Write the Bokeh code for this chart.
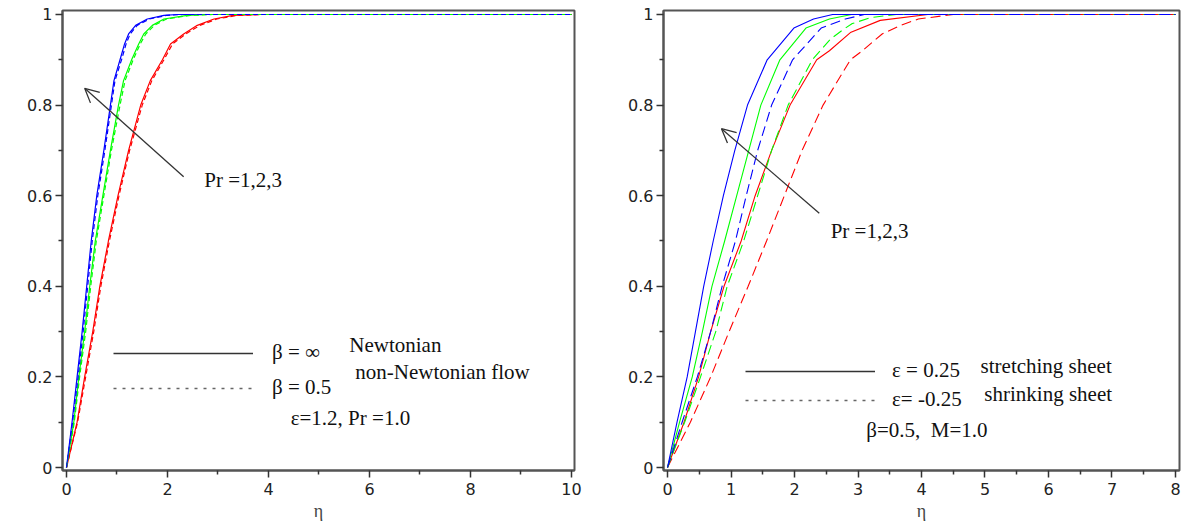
from bokeh.plotting import figure
from bokeh.models import (Range1d, FixedTicker, Label, Legend, LegendItem, Arrow,
                          OpenHead, CustomJSTickFormatter)
from bokeh.layouts import row
from bokeh.embed import file_html
from bokeh.resources import INLINE

NAN = float("nan")

# ---------------- data: left panel (epsilon = 1.2) ----------------
theta_left = [0, .1, .2, .3, .4, .5, .6, .7, .8, .854, .9, .935, .957, .976, .99, .998, 1, 1]
eta_L_pr3_newt = [0, .11, .21, .31, .40, .49, .60, .74, .87, .94, 1.06, 1.15, 1.23, 1.37, 1.60, 1.93, 2.2, 10]
eta_L_pr2_newt = [0, .145, .245, .36, .46, .57, .72, .87, 1.03, 1.13, 1.29, 1.43, 1.53, 1.70, 1.93, 2.39, 2.8, 10]
eta_L_pr1_newt = [0, .21, .36, .52, .66, .83, 1.02, 1.23, 1.47, 1.66, 1.90, 2.06, 2.32, 2.59, 2.92, 3.30, 3.8, 10]
eta_L_pr3_non = [0, .12, .23, .33, .42, .51, .62, .76, .89, .96, 1.09, 1.18, 1.26, 1.40, 1.64, 1.98, 2.3, 10]
eta_L_pr2_non = [0, .155, .26, .38, .48, .59, .74, .89, 1.06, 1.16, 1.32, 1.46, 1.57, 1.74, 1.98, 2.45, 2.9, 10]
eta_L_pr1_non = [0, .22, .38, .54, .68, .85, 1.04, 1.25, 1.50, 1.69, 1.93, 2.10, 2.36, 2.64, 2.98, 3.38, 3.9, 10]

# ---------------- data: right panel (beta = 0.5, M = 1.0) ----------------
theta_R_a = [0, .1, .2, .3, .4, .5, .6, .7, .8, .9, .97, .99, 1, 1]
eta_R_pr3_stretch = [0, .15, .31, .44, .57, .72, .88, 1.06, 1.26, 1.57, 1.99, 2.3, 2.6, 8]
eta_R_pr2_stretch = [0, .19, .39, .55, .70, .90, 1.09, 1.28, 1.47, 1.77, 2.18, 2.55, 2.9, 8]
eta_R_pr3_shrink = [0, .23, .47, .68, .86, 1.07, 1.24, 1.42, 1.64, 1.97, 2.42, 2.8, 3.1, 8]
theta_R_b = [0, .1, .2, .3, .4, .5, .6, .7, .8, .9, .92, .96, .987, 1, 1]
eta_R_pr1_stretch = [0, .26, .49, .68, .89, 1.16, 1.38, 1.64, 1.93, 2.35, 2.55, 2.88, 3.35, 4.1, 8]
theta_R_c = [0, .1, .2, .3, .4, .5, .6, .7, .8, .9, .946, .968, .98, .993, 1, 1]
eta_R_pr2_shrink = [0, .27, .52, .76, .94, 1.2, 1.42, 1.64, 1.90, 2.28, 2.57, 2.78, 2.91, 3.2, 3.6, 8]
theta_R_d = [0, .1, .2, .3, .4, .5, .6, .7, .8, .9, .92, .957, .976, .99, 1, 1]
eta_R_pr1_shrink = [0, .36, .68, .97, 1.27, 1.56, 1.84, 2.12, 2.45, 2.88, 3.07, 3.38, 3.67, 3.95, 4.5, 8]

BLUE, GREEN, RED = "#0000ff", "#00ff00", "#ff0000"
FRAME = "#555555"
SERIF = "Liberation Serif"
TICKF = "DejaVu Sans"
TXT = "21px"


def make_fig(width, x_start, x_end, mbl, mbr, xmajor, xminor):
    p = figure(width=width, height=523, x_range=Range1d(x_start, x_end),
               y_range=Range1d(-0.0066, 1.0088), output_backend="svg",
               toolbar_location=None, min_border_left=mbl, min_border_right=mbr,
               min_border_top=10, min_border_bottom=53)
    p.grid.visible = False
    p.outline_line_color = FRAME
    p.outline_line_width = 2
    p.background_fill_color = "white"
    p.border_fill_color = "white"
    for ax in (p.xaxis[0], p.yaxis[0]):
        ax.axis_line_color = FRAME
        ax.axis_line_width = 2
        ax.major_tick_line_color = "#333333"
        ax.minor_tick_line_color = "#333333"
        ax.major_tick_line_width = 1.5
        ax.minor_tick_line_width = 1.5
        ax.major_tick_out = 7
        ax.major_tick_in = 0
        ax.minor_tick_out = 4
        ax.minor_tick_in = 0
        ax.major_label_text_font = TICKF
        ax.major_label_text_font_size = "16px"
        ax.major_label_text_color = "#222222"
        ax.formatter = CustomJSTickFormatter(code="return Number(tick.toFixed(2)).toString();")
    p.xaxis.ticker = FixedTicker(ticks=xmajor, minor_ticks=xminor)
    p.yaxis.ticker = FixedTicker(ticks=[0, 0.2, 0.4, 0.6, 0.8, 1.0],
                                 minor_ticks=[0.1, 0.3, 0.5, 0.7, 0.9])
    p.xaxis.major_label_standoff = 5
    p.yaxis.major_label_standoff = 3
    p.xaxis.axis_label = "η"
    p.xaxis.axis_label_text_font = SERIF
    p.xaxis.axis_label_text_font_style = "normal"
    p.xaxis.axis_label_text_font_size = "18px"
    p.xaxis.axis_label_standoff = 3
    return p


def text(p, x, y, s, size=TXT):
    p.add_layout(Label(x=x, y=y, text=s, text_font=SERIF, text_font_size=size,
                       text_baseline="middle", text_align="left", text_color="#111111"))


# ---------------- left figure ----------------
pL = make_fig(600, -0.079, 10.06, 62, 26,
              [0, 2, 4, 6, 8, 10], [1, 3, 5, 7, 9])
for eta, col in ((eta_L_pr1_newt, RED), (eta_L_pr2_newt, GREEN), (eta_L_pr3_newt, BLUE)):
    pL.line(eta, theta_left, line_color=col, line_width=1.2)
for eta, col in ((eta_L_pr1_non, RED), (eta_L_pr2_non, GREEN), (eta_L_pr3_non, BLUE)):
    pL.line(eta, theta_left, line_color=col, line_width=1.2, line_dash="5 3")

rs = pL.line([NAN], [NAN], line_color="#333333", line_width=1.6)
rd = pL.line([NAN], [NAN], line_color="#666666", line_width=1.3, line_dash="3 6")
legL = Legend(items=[LegendItem(label="β = ∞", renderers=[rs]),
                     LegendItem(label="β = 0.5", renderers=[rd])],
              location=(51, 70), glyph_width=140, glyph_height=20, label_height=20,
              spacing=10, padding=0, margin=0, label_standoff=19,
              border_line_alpha=0, background_fill_alpha=0,
              label_text_font=SERIF, label_text_font_size=TXT, label_text_color="#111111")
pL.add_layout(legL)
text(pL, 5.60, 0.2715, "Newtonian")
text(pL, 5.72, 0.21, "non-Newtonian flow")
text(pL, 4.44, 0.11, "ε=1.2, Pr =1.0")
text(pL, 2.73, 0.634, "Pr =1,2,3")
pL.add_layout(Arrow(x_start=2.32, y_start=0.642, x_end=0.36, y_end=0.837,
                    line_color="#333333", line_width=1.3,
                    end=OpenHead(size=14, line_color="#333333", line_width=1.3)))
pL.add_layout(Label(x=-1.07, y=0.501, text="θ", text_font=SERIF, text_font_size="18px",
                    text_align="center", text_baseline="middle", text_color="#111111"))

# ---------------- right figure ----------------
pR = make_fig(581, -0.063, 8.063, 63, 2,
              [0, 1, 2, 3, 4, 5, 6, 7, 8], [0.5, 1.5, 2.5, 3.5, 4.5, 5.5, 6.5, 7.5])
for eta, th, col in ((eta_R_pr1_stretch, theta_R_b, RED), (eta_R_pr2_stretch, theta_R_a, GREEN),
                     (eta_R_pr3_stretch, theta_R_a, BLUE)):
    pR.line(eta, th, line_color=col, line_width=1.1)
for eta, th, col in ((eta_R_pr1_shrink, theta_R_d, RED), (eta_R_pr2_shrink, theta_R_c, GREEN),
                     (eta_R_pr3_shrink, theta_R_a, BLUE)):
    pR.line(eta, th, line_color=col, line_width=1.1, line_dash="10 5")

rs2 = pR.line([NAN], [NAN], line_color="#333333", line_width=1.6)
rd2 = pR.line([NAN], [NAN], line_color="#666666", line_width=1.3, line_dash="3 6")
legR = Legend(items=[LegendItem(label="ε = 0.25", renderers=[rs2]),
                     LegendItem(label="ε= -0.25", renderers=[rd2])],
              location=(82, 58), glyph_width=130, glyph_height=20, label_height=20,
              spacing=4, padding=0, margin=0, label_standoff=17,
              border_line_alpha=0, background_fill_alpha=0,
              label_text_font=SERIF, label_text_font_size=TXT, label_text_color="#111111")
pR.add_layout(legR)
text(pR, 4.93, 0.225, "stretching sheet")
text(pR, 4.99, 0.163, "shrinking sheet")
text(pR, 3.13, 0.082, "β=0.5,\u00a0 M=1.0")
text(pR, 2.57, 0.523, "Pr =1,2,3")
pR.add_layout(Arrow(x_start=2.39, y_start=0.561, x_end=0.85, y_end=0.748,
                    line_color="#333333", line_width=1.3,
                    end=OpenHead(size=14, line_color="#333333", line_width=1.3)))
pR.add_layout(Label(x=-0.866, y=0.501, text="θ", text_font=SERIF, text_font_size="18px",
                    text_align="center", text_baseline="middle", text_color="#111111"))

layout = row(pL, pR)
open("out.html", "w").write(file_html(layout, INLINE))
